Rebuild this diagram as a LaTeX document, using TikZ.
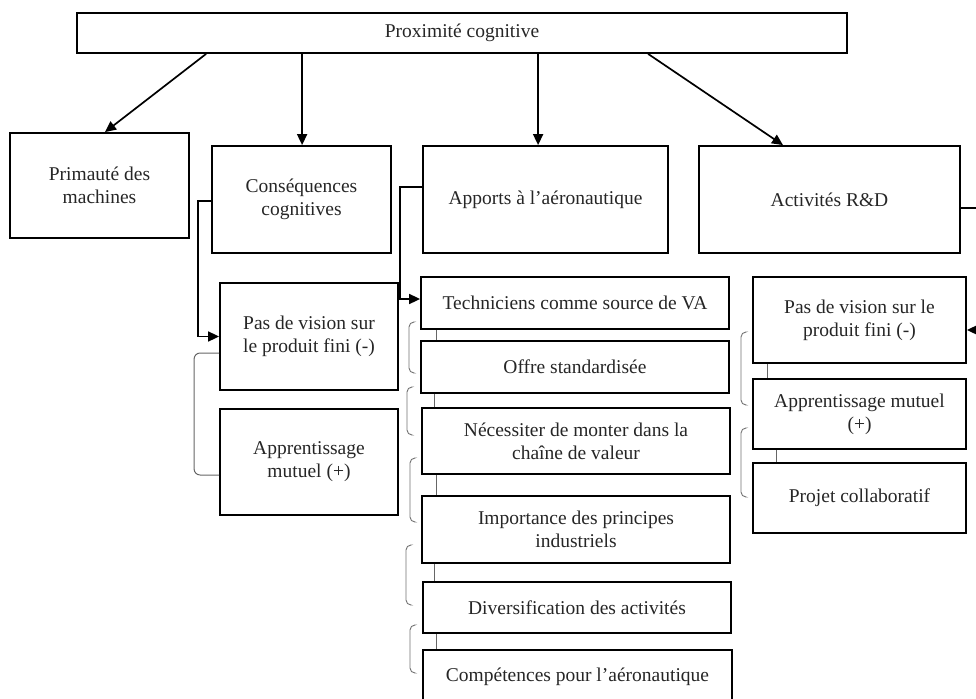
\documentclass[tikz,border=0pt]{standalone}
\usepackage{fontspec}
\setmainfont{Liberation Serif}
\usetikzlibrary{arrows.meta,calc}
\newcommand\brkt[3]{\draw[brk] (#1+4,#2) -- (#1,#2) -- (#1,#3) -- (#1+4,#3);}
\begin{document}
\begin{tikzpicture}[x=1pt,y=-1pt,
  box/.style={draw=black, line width=1.8pt, fill=white, align=center, inner sep=2pt,
    font=\fontsize{19.5}{23}\selectfont, text=black!85},
  arr/.style={line width=1.7pt, -{Triangle[length=11pt,width=10pt]}},
  lnk/.style={draw=black!60, line width=1pt},
  brk/.style={draw=black!55, line width=0.9pt, rounded corners=5pt}]
\useasboundingbox (0,0) rectangle (976,698);
\path[fill=white] (0,0) rectangle (976,698);

% top level
\node[box, minimum width=770pt, minimum height=40pt] (top) at (462,33) {Proximité cognitive};
\node[box, minimum width=179pt, minimum height=105pt] (prim) at (99.5,185.5) {Primauté des\\machines};
\node[box, minimum width=179pt, minimum height=107pt] (cons) at (301.5,199.5) {Conséquences\\cognitives};
\node[box, minimum width=245pt, minimum height=107pt] (app) at (545.5,199.5) {Apports à l’aéronautique};
\node[box, minimum width=261pt, minimum height=107pt] (act) at (829.5,199.5) {Activités R\&D};

% left column
\node[box, minimum width=178pt, minimum height=107pt] (pv1) at (309,336.5) {Pas de vision sur\\le produit fini (-)};
\node[box, minimum width=178pt, minimum height=106pt] (am1) at (309,462) {Apprentissage\\mutuel (+)};

% middle column
\node[box, minimum width=308pt, minimum height=52pt] (tech) at (575,303) {Techniciens comme source de VA};
\node[box, minimum width=308pt, minimum height=52pt] (offre) at (575,367) {Offre standardisée};
\node[box, minimum width=308pt, minimum height=66pt] (nec) at (576,441) {Nécessiter de monter dans la\\chaîne de valeur};
\node[box, minimum width=308pt, minimum height=67pt] (imp) at (576,529.5) {Importance des principes\\industriels};
\node[box, minimum width=308pt, minimum height=51pt] (div) at (577,607.5) {Diversification des activités};
\node[box, minimum width=309pt, minimum height=54pt] (comp) at (577.5,677) {Compétences pour l’aéronautique};

% right column
\node[box, minimum width=213pt, minimum height=86pt] (pv2) at (859.5,320) {Pas de vision sur le\\produit fini (-)};
\node[box, minimum width=213pt, minimum height=70pt] (am2) at (859.5,414) {Apprentissage mutuel\\(+)};
\node[box, minimum width=213pt, minimum height=70pt] (proj) at (859.5,498) {Projet collaboratif};

% arrows from top
\coordinate (a1) at ([xshift=130pt]top.south west);
\coordinate (a2) at ([xshift=226pt]top.south west);
\coordinate (a3) at ([xshift=462pt]top.south west);
\coordinate (a4) at ([xshift=572pt]top.south west);
\draw[arr] (a1) -- ([xshift=5.5pt]prim.north);
\draw[arr] (a2) -- (a2 |- cons.north);
\draw[arr] (a3) -- (a3 |- app.north);
\draw[arr] (a4) -- ([xshift=-46.5pt]act.north);

% elbow connectors
\draw[arr] ([yshift=-1.5pt]cons.west) -- ++(-13,0) |- (pv1.west);
\draw[arr] ([yshift=12.5pt]app.west) -- ++(-22,0) |- ([yshift=4pt]tech.west);
\draw[arr] ([yshift=-8.5pt]act.east) -- ++(40,0) |- ([yshift=-10pt]pv2.east);

% thin links
\draw[lnk, rounded corners=6pt] ([yshift=-16.5pt]pv1.west) -- ++(-25,0) |- ([yshift=-13pt]am1.west);
\draw[lnk] ([xshift=16pt]tech.south west) -- ([xshift=16pt]offre.north west);
\draw[lnk] ([xshift=14pt]offre.south west) -- ([xshift=14pt]offre.south west |- nec.north);
\draw[lnk] ([xshift=15pt]nec.south west) -- ([xshift=15pt]imp.north west);
\draw[lnk] ([xshift=13pt]imp.south west) -- ([xshift=13pt]imp.south west |- div.north);
\draw[lnk] ([xshift=14pt]div.south west) -- ([xshift=14pt]div.south west |- comp.north);
\draw[lnk] ([xshift=15pt]pv2.south west) -- ([xshift=15pt]am2.north west);
\draw[lnk] ([xshift=24pt]am2.south west) -- ([xshift=24pt]proj.north west);

% brackets
\brkt{409}{322}{373}
\brkt{407}{387}{435}
\brkt{410}{458}{522}
\brkt{406}{545}{605}
\brkt{410}{625}{673}
\brkt{741}{332}{405}
\brkt{741}{428}{497}
\end{tikzpicture}
\end{document}
